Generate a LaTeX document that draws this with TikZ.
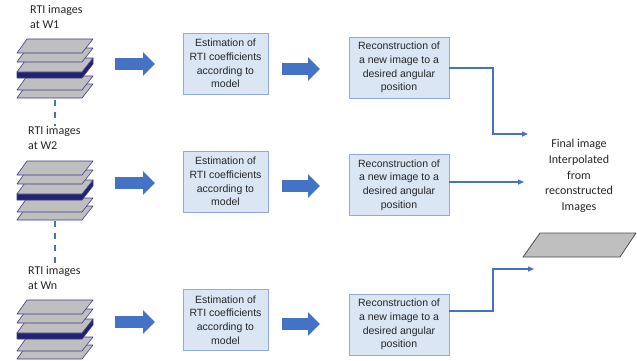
\documentclass[tikz,border=0pt]{standalone}
\usepackage{fontspec}
\setmainfont{Carlito}
\newfontfamily\boxfont{Liberation Sans}
\usetikzlibrary{arrows.meta}

\definecolor{arrowblue}{HTML}{4472C4}
\definecolor{boxfill}{HTML}{DAE6F4}
\definecolor{boxline}{HTML}{8FAADC}
\definecolor{plategray}{HTML}{BFBFBF}
\definecolor{plateline}{HTML}{3C3C8C}
\definecolor{slabnavy}{HTML}{22226E}

\tikzset{
  stepbox/.style={draw=boxline, fill=boxfill, line width=0.9pt, align=center,
    font=\boxfont\fontsize{10.5}{13.6}\selectfont, text=black!85, inner sep=0pt},
  estbox/.style={stepbox, minimum width=85pt, minimum height=61pt},
  recbox/.style={stepbox, minimum width=100pt, minimum height=61pt},
  rtilabel/.style={align=left, anchor=north west, inner sep=0pt,
    font=\fontsize{12}{15}\selectfont, text=black!85},
  fatarrow/.style={arrowblue, line width=12pt, -{Triangle[length=12pt,width=23pt]}},
  thinarrow/.style={arrowblue, line width=1.4pt, -{Triangle[length=6pt,width=5pt]}},
  waveline/.style={arrowblue, line width=1.6pt, dash pattern=on 6pt off 6pt},
  plate/.style={draw=plateline, fill=plategray, line width=0.6pt, line join=round},
  rtistack/.pic={
    \foreach \t in {45,37}
      \draw[plate] (10,\t) -- (76,\t) -- (65,\t+14) -- (0,\t+14) -- cycle;
    \draw[plate, fill=slabnavy] (0,33) -- (65,33) -- (76,19) -- (76,25)
      -- (65,39) -- (0,39) -- cycle;
    \draw[plate] (10,19) -- (76,19) -- (65,33) -- (0,33) -- cycle;
    \foreach \t in {9,0}
      \draw[plate] (10,\t) -- (76,\t) -- (65,\t+14) -- (0,\t+14) -- cycle;
  }
}

\begin{document}
\begin{tikzpicture}[x=1pt, y=-1pt]
  \useasboundingbox (0,0) rectangle (637,360);

  \node[rtilabel] (lbl1) at (30,5)   {RTI images\\at W1};
  \node[rtilabel] (lbl2) at (28,126) {RTI images\\at W2};
  \node[rtilabel] (lbl3) at (28,266) {RTI images\\at Wn};

  \pic at (17,39)  {rtistack};
  \pic at (17,161) {rtistack};
  \pic at (17,300) {rtistack};
  \coordinate (stk1) at (55,100);
  \coordinate (stk2) at (55,221);

  \draw[waveline] (stk1) -- (stk1 |- lbl2.north);
  \draw[waveline] (stk2) -- (stk2 |- lbl3.north);

  \node[estbox] (est1) at (225.5,63.5) {Estimation of\\RTI coefficients\\according to\\model};
  \node[estbox] (est2) at (225.5,181.5) {Estimation of\\RTI coefficients\\according to\\model};
  \node[estbox] (est3) at (225.5,320) {Estimation of\\RTI coefficients\\according to\\model};

  \node[recbox] (rec1) at (399,67.5) {Reconstruction of\\a new image to a\\desired angular\\position};
  \node[recbox] (rec2) at (399,185) {Reconstruction of\\a new image to a\\desired angular\\position};
  \node[recbox] (rec3) at (399,324.5) {Reconstruction of\\a new image to a\\desired angular\\position};

  \draw[fatarrow] (115,64) -- (155,64);
  \draw[fatarrow] (115,183) -- (155,183);
  \draw[fatarrow] (115,322) -- (155,322);

  \draw[fatarrow] (282,69) -- (320,69);
  \draw[fatarrow] (282,186) -- (320,186);
  \draw[fatarrow] (282,324) -- (320,324);

  \node[align=center, font=\fontsize{12}{15.6}\selectfont, text=black!85] (final) at (579,176)
    {Final image\\Interpolated\\from\\reconstructed\\Images};

  \coordinate (mid1) at (493,68);
  \coordinate (mid3) at (493,311);
  \coordinate (end1) at (528,134);
  \coordinate (end2) at (524,182);
  \coordinate (end3) at (534,269);
  \draw[thinarrow] (rec1.east |- mid1) -- (mid1) |- (end1);
  \draw[thinarrow] (rec2.east |- end2) -- (end2);
  \draw[thinarrow] (rec3.east |- mid3) -- (mid3) |- (end3);

  \draw[draw=black!70, fill=plategray, line width=0.8pt, line join=round]
    (523,257) -- (540,233) -- (636,233) -- (620,257) -- cycle;
\end{tikzpicture}
\end{document}
